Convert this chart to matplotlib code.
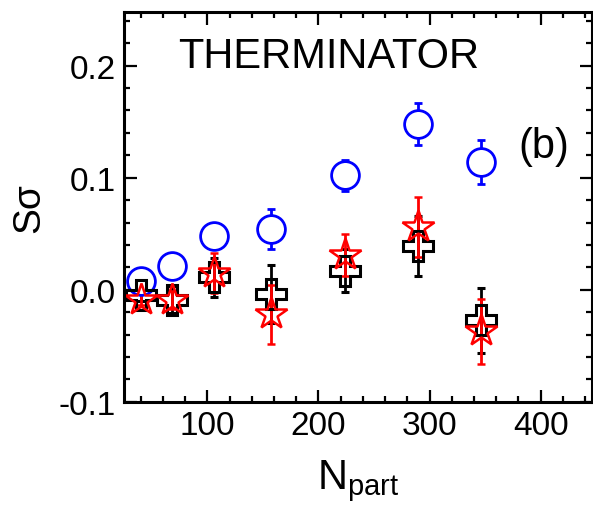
import numpy as np
import matplotlib
matplotlib.use("Agg")
import matplotlib.pyplot as plt
from matplotlib.ticker import MultipleLocator

plt.rcParams['font.family'] = ['Liberation Sans', 'DejaVu Sans']
plt.rcParams['mathtext.fontset'] = 'custom'
plt.rcParams['mathtext.rm'] = 'Liberation Sans'
plt.rcParams['mathtext.it'] = 'Liberation Sans'

# Npart values for each centrality bin
npart = [40, 68, 106, 157, 224, 290, 346]

# blue circles
circ_y = [0.008, 0.021, 0.048, 0.054, 0.102, 0.148, 0.114]
circ_err = [0.005, 0.004, 0.004, 0.018, 0.014, 0.019, 0.020]

# black crosses
cross_y = [-0.005, -0.009, 0.011, -0.004, 0.017, 0.039, -0.027]
cross_err = [0.005, 0.012, 0.017, 0.026, 0.019, 0.027, 0.029]

# red stars
star_y = [-0.009, -0.009, 0.015, -0.022, 0.031, 0.056, -0.037]
star_err = [0.005, 0.008, 0.018, 0.026, 0.019, 0.027, 0.029]

fig = plt.figure(figsize=(5.93, 5.10), dpi=100)
ax = fig.add_axes([0.209, 0.21, 0.789, 0.765])

ax.errorbar(npart, circ_y, yerr=circ_err, fmt='o', ms=20, mfc='white', mec='blue',
            mew=2.0, ecolor='blue', elinewidth=2, capsize=3, capthick=2)
ax.errorbar(npart, cross_y, yerr=cross_err, fmt='P', ms=22, mfc='none', mec='black',
            mew=2.2, ecolor='black', elinewidth=2, capsize=3, capthick=2)
ax.errorbar(npart, star_y, yerr=star_err, fmt='*', ms=24, mfc='none', mec='red',
            mew=1.8, ecolor='red', elinewidth=2, capsize=3, capthick=2)

ax.set_xlim(25, 446)
ax.set_ylim(-0.1, 0.248)
ax.set_xticks([100, 200, 300, 400])
ax.xaxis.set_minor_locator(MultipleLocator(20))
ax.set_yticks([-0.1, 0.0, 0.1, 0.2])
ax.set_yticklabels(['-0.1', '0.0', '0.1', '0.2'])
ax.yaxis.set_minor_locator(MultipleLocator(0.02))
ax.tick_params(which='both', direction='in', top=True, right=True, labelsize=24, width=1.6)
ax.tick_params(which='major', length=9, pad=6)
ax.tick_params(which='minor', length=4.5)
for s in ax.spines.values():
    s.set_linewidth(2.2)

ax.set_xlabel(r'N$_{\mathrm{part}}$', fontsize=30, labelpad=12)
ax.set_ylabel('Sσ', fontsize=28, labelpad=8)

ax.text(0.115, 0.887, 'THERMINATOR', transform=ax.transAxes, fontsize=30, va='center')
ax.text(0.842, 0.656, '(b)', transform=ax.transAxes, fontsize=30, va='center')

fig.savefig('out.png', dpi=100)
